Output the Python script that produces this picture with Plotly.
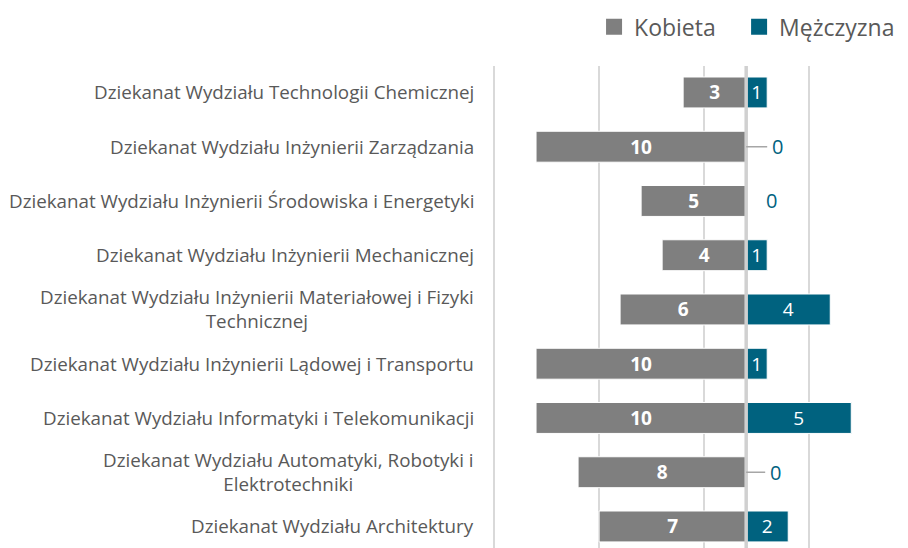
import plotly.graph_objects as go

categories = [
    "Dziekanat Wydziału Technologii Chemicznej",
    "Dziekanat Wydziału Inżynierii Zarządzania",
    "Dziekanat Wydziału Inżynierii Środowiska i Energetyki",
    "Dziekanat Wydziału Inżynierii Mechanicznej",
    "Dziekanat Wydziału Inżynierii Materiałowej i Fizyki<br>Technicznej",
    "Dziekanat Wydziału Inżynierii Lądowej i Transportu",
    "Dziekanat Wydziału Informatyki i Telekomunikacji",
    "Dziekanat Wydziału Automatyki, Robotyki i<br>Elektrotechniki",
    "Dziekanat Wydziału Architektury",
]
kobieta = [3, 10, 5, 4, 6, 10, 10, 8, 7]
mezczyzna = [1, 0, 0, 1, 4, 1, 5, 0, 2]
grid_ticks = [-12, -7, -2, 3, 8]

GREY = "#7F7F7F"
TEAL = "#00627F"
TXT = "#595959"
FONT = "Open Sans, sans-serif"

rows = list(range(len(categories)))

fig = go.Figure()
fig.add_trace(go.Bar(
    y=rows, x=[-v for v in kobieta], orientation="h", name="Kobieta",
    marker=dict(color=GREY, line=dict(color="white", width=1)),
    width=0.57, text=[str(v) for v in kobieta], textposition="inside",
    insidetextanchor="middle", textangle=0, constraintext="none",
    textfont=dict(family=FONT, size=19, color="white", weight="bold"),
    showlegend=False, hoverinfo="skip",
))
fig.add_trace(go.Bar(
    y=rows, x=mezczyzna, orientation="h", name="Mężczyzna",
    marker=dict(color=TEAL, line=dict(color="white", width=1)),
    width=0.57, text=[str(v) if v > 0 else "" for v in mezczyzna],
    textposition="inside", insidetextanchor="middle", textangle=0,
    constraintext="none",
    textfont=dict(family=FONT, size=19, color="white"),
    showlegend=False, hoverinfo="skip",
))
# legend entries (one legend each, placed like the reference)
for nm, col, lg in [("Kobieta", GREY, "legend"), ("Mężczyzna", TEAL, "legend2")]:
    fig.add_trace(go.Scatter(
        x=[None], y=[None], mode="markers", name=nm, legend=lg,
        marker=dict(symbol="square", size=16, color=col),
    ))

# category labels
for r, lab in zip(rows, categories):
    fig.add_annotation(
        x=0, xref="paper", y=r, yref="y", text=lab, showarrow=False,
        xanchor="right", yanchor="middle", align="center", xshift=-17,
        font=dict(family=FONT, size=18.8, color=TXT),
    )

# zero labels for Mężczyzna
zero_rows = [r for r in rows if mezczyzna[r] == 0]
for i, r in enumerate(zero_rows):
    leader = i != 1
    fig.add_annotation(
        x=0, y=r, xref="x", yref="y", text=str(mezczyzna[r]),
        showarrow=leader, arrowhead=0, arrowwidth=1.5, arrowcolor="#A6A6A6",
        ax=31 if r == 1 else 29, ay=0, borderpad=4,
        xshift=0 if leader else 25,
        font=dict(family=FONT, size=20, color=TEAL),
    )

fig.add_shape(type="line", xref="x", yref="paper", x0=0, x1=0, y0=0, y1=1,
              line=dict(color="#D0D0D0", width=3.5), layer="above")

legend_common = dict(orientation="h", xanchor="left",
                     yref="container", y=0.965, yanchor="middle",
                     font=dict(family=FONT, size=23, color=TXT),
                     itemsizing="trace", bgcolor="rgba(0,0,0,0)")

fig.update_layout(
    width=900, height=540,
    margin=dict(l=485, r=0, t=58, b=0, autoexpand=False),
    paper_bgcolor="white", plot_bgcolor="white",
    barmode="relative", bargap=0.43,
    font=dict(family=FONT, color=TXT),
    xaxis=dict(range=[-12.048, 7.7], tickvals=grid_ticks, showticklabels=False,
               showgrid=True, gridcolor="#D9D9D9", gridwidth=2,
               zeroline=False, showline=False, fixedrange=True),
    yaxis=dict(range=[8.397, -0.488], showticklabels=False, showgrid=False,
               zeroline=False, showline=False, fixedrange=True),
    legend=dict(x=0.2435, **legend_common),
    legend2=dict(x=0.593, **legend_common),
)

fig.write_html("out.html")
